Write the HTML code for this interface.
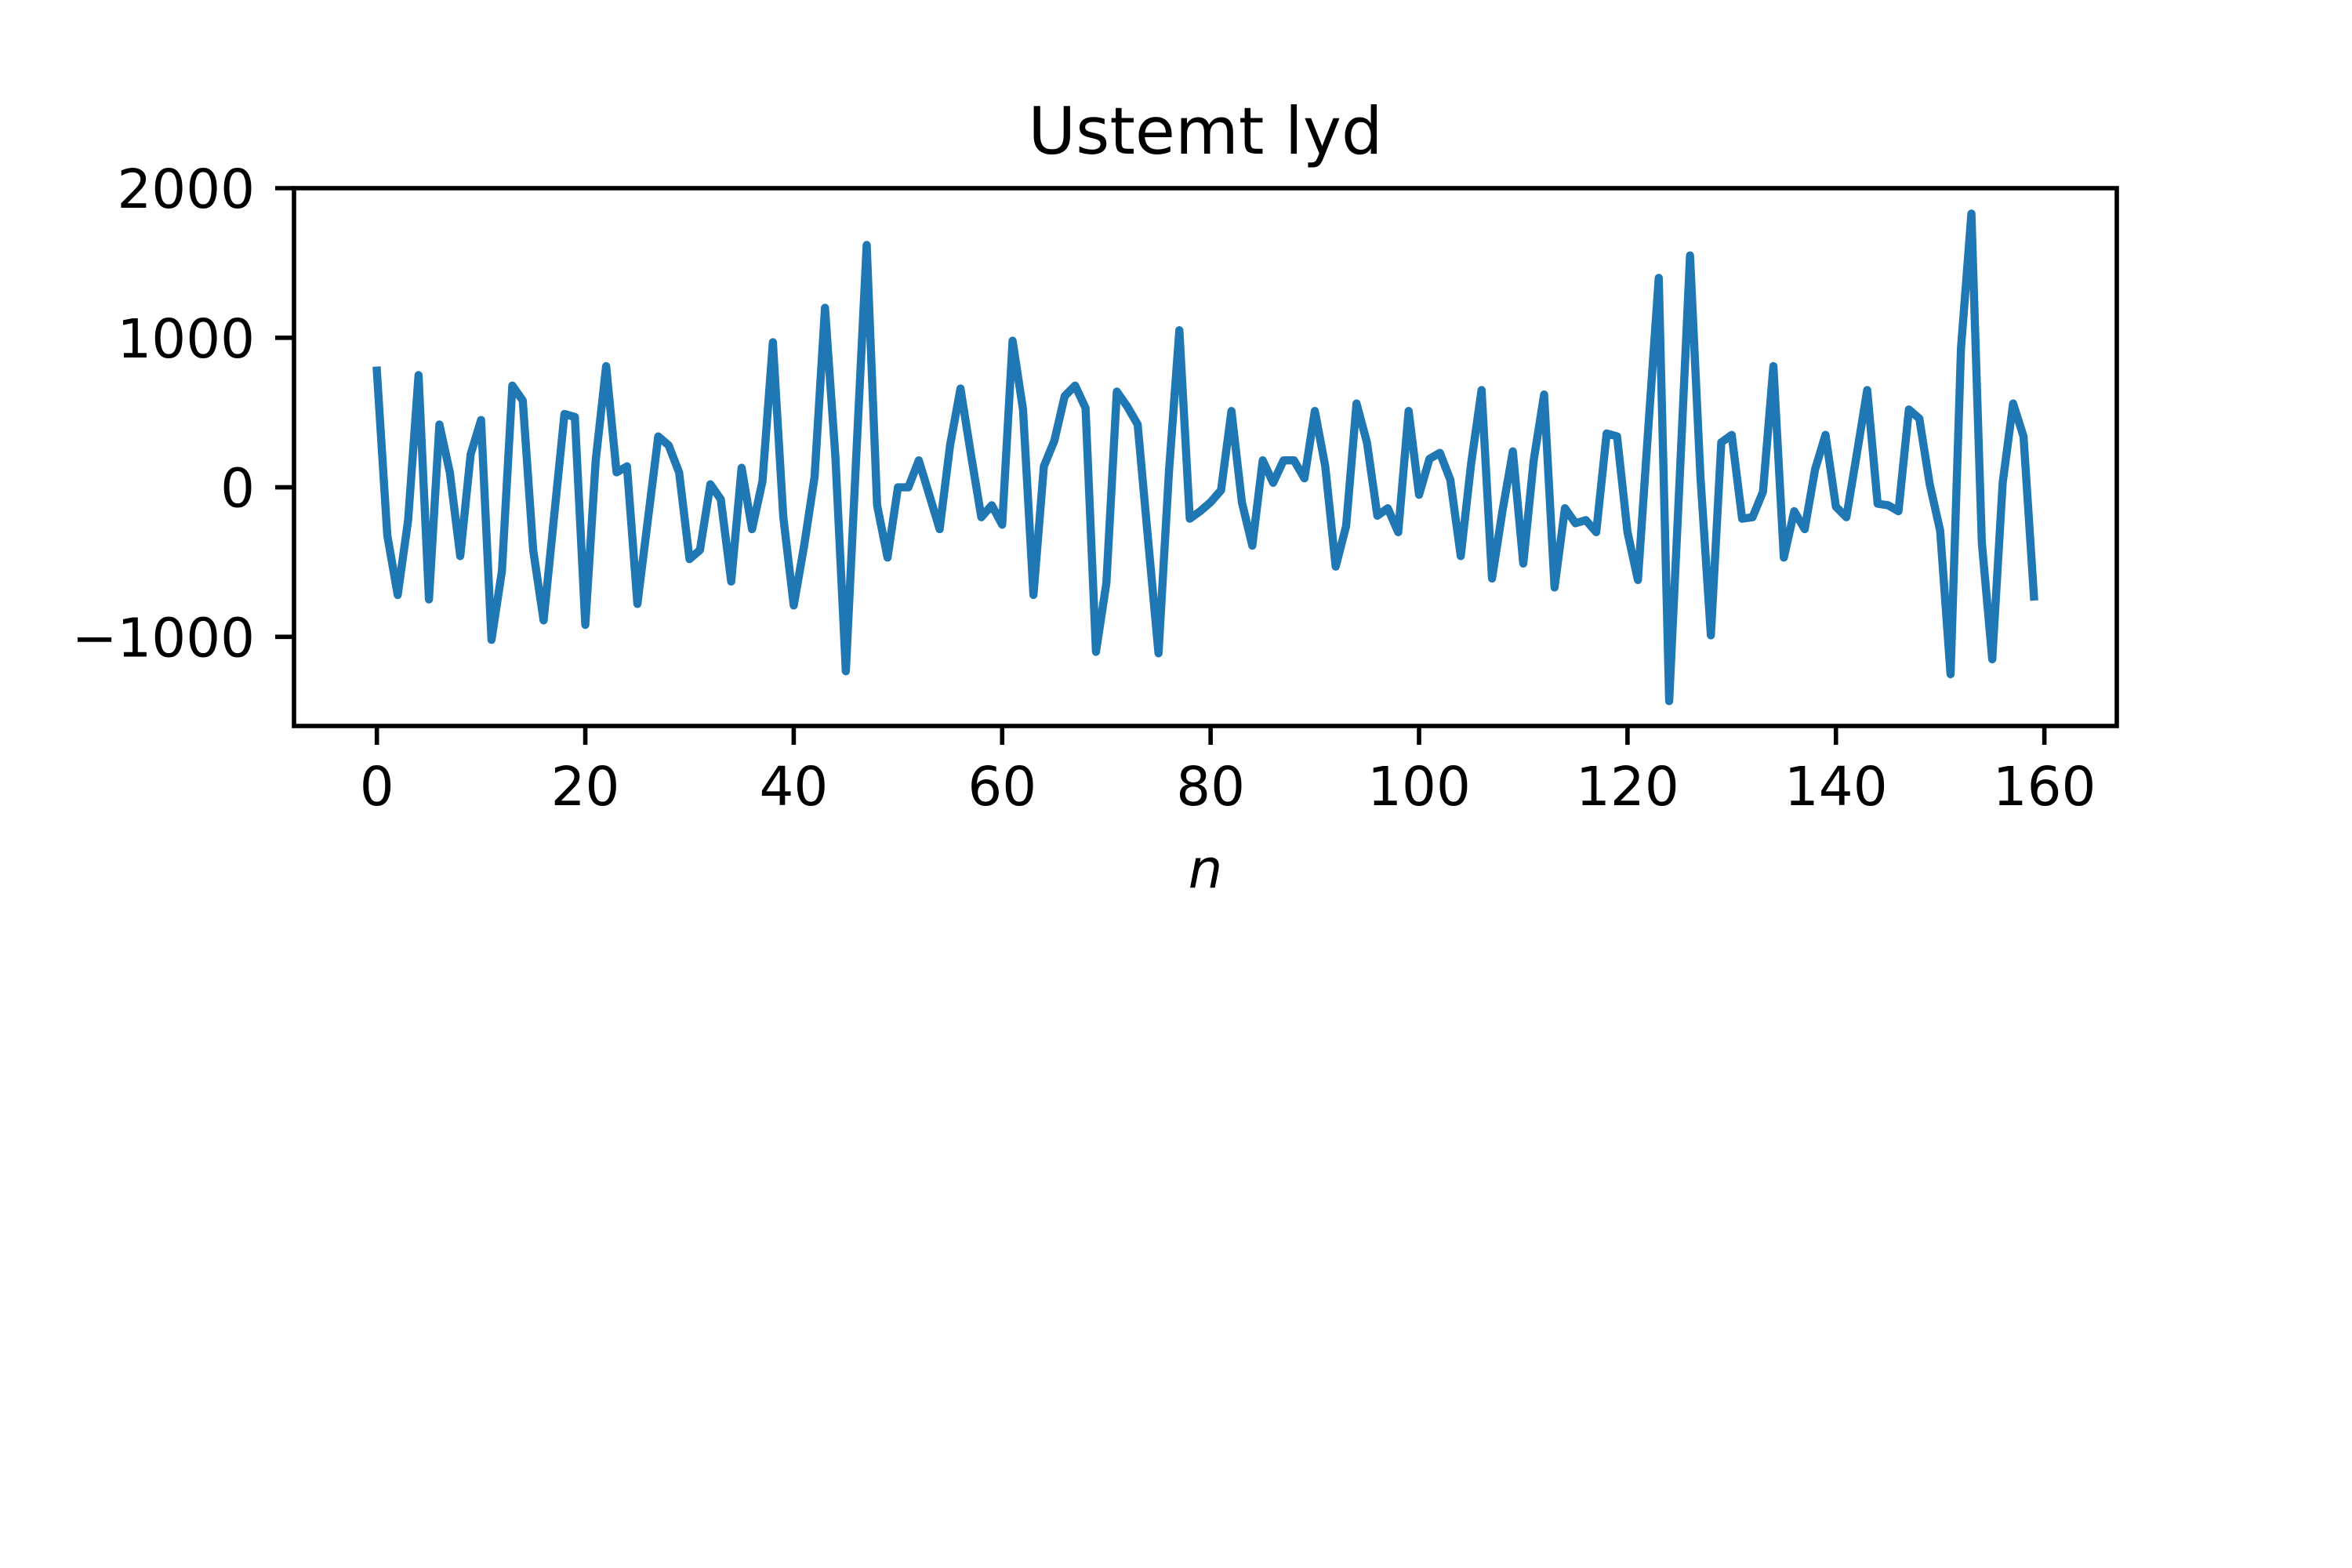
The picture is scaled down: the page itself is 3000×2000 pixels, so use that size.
<!DOCTYPE html>
<html><head><meta charset="utf-8"><style>
html,body{margin:0;padding:0;background:#fff;}
svg{display:block;}
text{font-family:"DejaVu Sans","Liberation Sans",sans-serif;fill:#000;}
</style></head><body>
<svg id="chart" width="3000" height="2000" viewBox="0 0 3000 2000" xmlns="http://www.w3.org/2000/svg">
<rect width="3000" height="2000" fill="#fff"/>
<text x="1537.5" y="196" font-size="83" text-anchor="middle">Ustemt lyd</text>
<g id="plot"></g>
</svg>
<script>
const samples = [780,-320,-720,-220,750,-750,420,100,-460,220,450,-1020,-560,680,580,-420,-890,-200,490,470,
-920,180,810,100,140,-780,-220,340,280,100,-480,-420,20,-80,-630,130,-280,40,970,-200,
-790,-390,70,1200,200,-1230,210,1620,-120,-470,0,0,180,-50,-280,280,660,220,-200,-120,
-250,980,520,-720,140,310,610,680,530,-1100,-640,640,540,420,-350,-1110,100,1050,-210,-160,
-100,-20,510,-100,-390,180,30,180,180,60,510,140,-530,-260,560,300,-190,-140,-300,510,
-50,190,230,50,-460,160,650,-610,-160,240,-510,180,620,-670,-140,-240,-220,-300,360,340,
-300,-620,400,1400,-1430,50,1550,70,-990,300,350,-210,-200,-30,810,-470,-160,-280,120,350,
-130,-200,220,650,-110,-120,-160,520,460,20,-290,-1250,930,1830,-370,-1150,30,560,340,-730];
const xTicks = [0,20,40,60,80,100,120,140,160];
const yTicks = [-1000,0,1000,2000];
const yTickLabels = ["\u22121000","0","1000","2000"];
const xDomain = [-7.95,166.95];
const yDomain = [-1596,2000];

const L=375,R=2700,T=240,B=926;
const NS="http://www.w3.org/2000/svg";
const g=document.getElementById('plot');
function sx(v){return L+(v-xDomain[0])/(xDomain[1]-xDomain[0])*(R-L);}
function sy(v){return B-(v-yDomain[0])/(yDomain[1]-yDomain[0])*(B-T);}
function mk(tag,attrs){const e=document.createElementNS(NS,tag);for(const k in attrs)e.setAttribute(k,attrs[k]);return e;}

const clip=mk('clipPath',{id:'cp'});clip.appendChild(mk('rect',{x:L,y:T,width:R-L,height:B-T}));g.appendChild(clip);
let d='';
samples.forEach((v,i)=>{d+=(i?'L':'M')+sx(i).toFixed(2)+','+sy(v).toFixed(2);});
const line=mk('path',{d:d,fill:'none',stroke:'#1f77b4','stroke-width':10.4,'stroke-linejoin':'round','stroke-linecap':'square','clip-path':'url(#cp)'});


g.appendChild(line);

const frame=mk('rect',{x:L,y:T,width:R-L,height:B-T,fill:'none',stroke:'#000','stroke-width':5.6});


g.appendChild(frame);

xTicks.forEach(t=>{
  const x=sx(t);
  const tk=mk('line',{x1:x,x2:x,y1:B,y2:B+24,stroke:'#000','stroke-width':5.6});
  
  
  g.appendChild(tk);
  const tx=mk('text',{x:x,y:1027,'font-size':69,'text-anchor':'middle'});
  tx.textContent=String(t);
  
  
  g.appendChild(tx);
});
yTicks.forEach((t,i)=>{
  const y=sy(t);
  const tk=mk('line',{x1:L-24,x2:L,y1:y,y2:y,stroke:'#000','stroke-width':5.6});
  
  
  g.appendChild(tk);
  const tx=mk('text',{x:325,y:y+25,'font-size':69,'text-anchor':'end'});
  tx.textContent=yTickLabels[i];
  
  
  g.appendChild(tx);
});
const xl=mk('text',{x:(L+R)/2,y:1132,'font-size':69,'text-anchor':'middle','font-style':'italic'});
xl.textContent='n';


g.appendChild(xl);
</script>
</body></html>
